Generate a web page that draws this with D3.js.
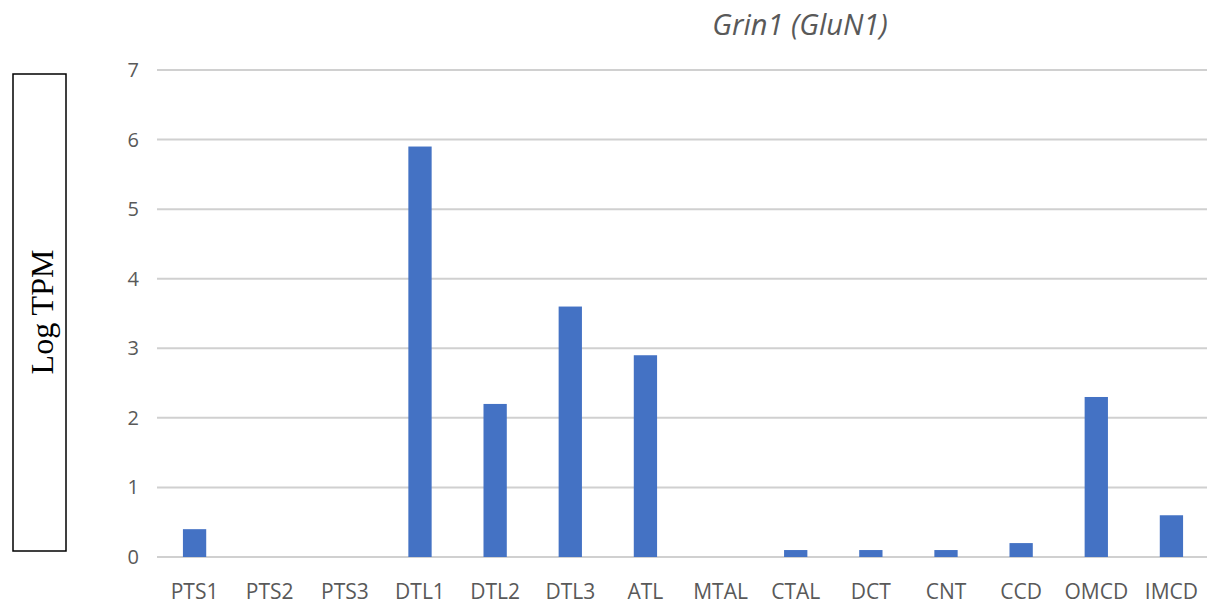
<!DOCTYPE html>
<html>
<head>
<meta charset="utf-8">
<script src="https://cdn.jsdelivr.net/npm/d3@7"></script>
<style>
  body { margin: 0; background: #fff; }
  svg { display: block; }
</style>
</head>
<body>
<svg width="1209" height="605"></svg>
<script>
// data
let segments = ["PTS1","PTS2","PTS3","DTL1","DTL2","DTL3","ATL","MTAL","CTAL","DCT","CNT","CCD","OMCD","IMCD"];
let logTpm = [0.4, 0, 0, 5.9, 2.2, 3.6, 2.9, 0, 0.1, 0.1, 0.1, 0.2, 2.3, 0.6];
let yTicks = [0, 1, 2, 3, 4, 5, 6, 7];

let svg = d3.select("svg");
let plotLeft = 157, plotRight = 1209, plotTop = 70, plotBottom = 557;

let xScale = d3.scaleBand()
    .domain(segments)
    .range([plotLeft, plotRight])
    .paddingInner(0.69)
    .paddingOuter(0.345);
let yScale = d3.scaleLinear()
    .domain([0, 7])
    .range([plotBottom, plotTop]);

// gridlines
svg.append("g")
    .selectAll("line")
    .data(yTicks)
    .enter().append("line")
    .attr("x1", plotLeft)
    .attr("x2", 1207)
    .attr("y1", d => yScale(d))
    .attr("y2", d => yScale(d))
    .attr("stroke", "#d0d0d0")
    .attr("stroke-width", 2);

// y tick labels
svg.append("g")
    .selectAll("text")
    .data(yTicks)
    .enter().append("text")
    .attr("x", 139)
    .attr("y", d => yScale(d))
    .attr("dy", "0.35em")
    .attr("text-anchor", "end")
    .attr("font-family", "Open Sans, sans-serif")
    .attr("font-size", 20)
    .attr("fill", "#595959")
    .text(d => d);

// bars
svg.append("g")
    .selectAll("rect")
    .data(segments)
    .enter().append("rect")
    .attr("x", d => xScale(d))
    .attr("width", xScale.bandwidth())
    .attr("y", (d, i) => yScale(logTpm[i]))
    .attr("height", (d, i) => yScale(0) - yScale(logTpm[i]))
    .attr("fill", "#4472c4");

// x labels
let xAxis = d3.axisBottom(xScale).tickSize(0).tickPadding(0);
let gx = svg.append("g")
    .attr("transform", "translate(0," + (plotBottom + 27) + ")")
    .call(xAxis);
gx.select(".domain").remove();
gx.selectAll("text")
    .attr("font-family", "Open Sans, sans-serif")
    .attr("font-size", 21)
    .attr("fill", "#595959");

// title
svg.append("text")
    .attr("x", 800)
    .attr("y", 35)
    .attr("text-anchor", "middle")
    .attr("font-family", "Open Sans, sans-serif")
    .attr("font-style", "italic")
    .attr("font-size", 29)
    .attr("fill", "#595959")
    .text("Grin1 (GluN1)");

// y label box
svg.append("rect")
    .attr("x", 13)
    .attr("y", 74)
    .attr("width", 53)
    .attr("height", 477)
    .attr("fill", "none")
    .attr("stroke", "#000")
    .attr("stroke-width", 1.5);
svg.append("text")
    .attr("transform", "translate(53,312) rotate(-90)")
    .attr("text-anchor", "middle")
    .attr("font-family", "Liberation Serif, serif")
    .attr("font-size", 32)
    .attr("fill", "#000")
    .text("Log TPM");
</script>
</body>
</html>
